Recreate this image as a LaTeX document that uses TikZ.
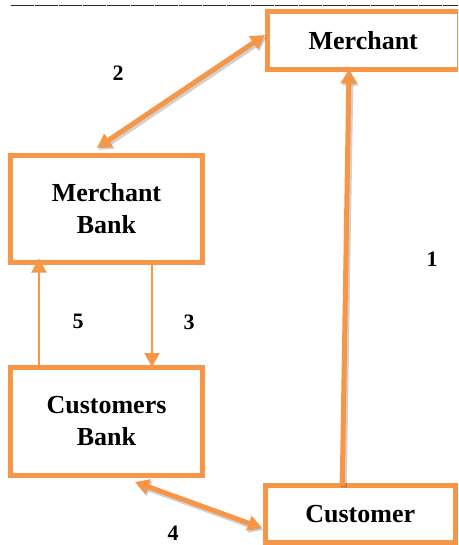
\documentclass[tikz,border=0pt]{standalone}
\usepackage{fontspec}
\setmainfont{Liberation Serif}
\usetikzlibrary{arrows.meta}
\definecolor{flow}{HTML}{F79646}
\tikzset{
  box/.style={draw=flow, line width=5pt, fill=white, inner sep=0pt, outer sep=0pt,
    align=center, font=\fontsize{26}{32}\selectfont\bfseries},
  num/.style={inner sep=0pt, font=\fontsize{22}{26}\selectfont\bfseries},
  bigtip/.style={-{Triangle[length=14pt,width=16pt]}},
  bigtips/.style={{Triangle[length=14pt,width=15pt]}-{Triangle[length=14pt,width=15pt]}},
  smalltip/.style={-{Triangle[length=14pt,width=15pt]}},
  thick link/.style={draw=flow, line width=5pt},
  thin link/.style={draw=flow, line width=2pt},
  shadowed/.style={preaction={draw=black, opacity=0.18, line width=6pt,
    transform canvas={shift={(1.5pt,-2pt)}}}}
}
\begin{document}
\begin{tikzpicture}[x=1pt,y=-1pt]
\useasboundingbox (0,0) rectangle (458,545);
\clip (0,0) rectangle (458,545);

% ruled line across the top
\draw[line width=1.2pt, black!85, dash pattern=on 23pt off 1pt] (10.5,5.7) -- (458,5.7);

% parties
\node[box, minimum width=191.5pt, minimum height=58pt]  (merchant) at (363.25,40.5) {Merchant};
\node[box, minimum width=192pt,   minimum height=107pt] (mbank)    at (106.5,209)   {Merchant\\Bank};
\node[box, minimum width=192pt,   minimum height=108pt] (cbank)    at (106.5,421.5) {Customers\\Bank};
\node[box, minimum width=189.5pt, minimum height=56.5pt] (customer) at (360.25,513.75) {Customer};

% connector end points on the boxes
\coordinate (m2)  at ([xshift=-2.5pt,yshift=5.5pt]merchant.west);
\coordinate (mb2) at ([xshift=-9.5pt,yshift=7.5pt]mbank.north);
\coordinate (c1)  at ([xshift=-18pt]customer.north);
\coordinate (m1)  at ([xshift=-14.25pt]merchant.south);
\coordinate (cb5) at ([xshift=-67.5pt]cbank.north);
\coordinate (mb5) at ([xshift=-67.5pt,yshift=4pt]mbank.south);
\coordinate (mb3) at ([xshift=45.5pt]mbank.south);
\coordinate (cb3) at ([xshift=45.5pt,yshift=0.5pt]cbank.north);
\coordinate (cb4) at ([xshift=28.5pt,yshift=-6.5pt]cbank.south);
\coordinate (c4)  at ([xshift=-3.5pt,yshift=-14.25pt]customer.west);

% flows
\draw[thick link, bigtips, shadowed] (mb2) -- (m2);
\draw[thick link, bigtip, shadowed] (c1) -- (m1);
\draw[thin link, smalltip] (cb5) -- (mb5);
\draw[thin link, smalltip] (mb3) -- (cb3);
\draw[thick link, bigtips, shadowed] (cb4) -- (c4);

% step numbers
\node[num] (n1) at (432,259) {1};
\node[num] (n2) at (118,73)  {2};
\node[num] (n3) at (189,322) {3};
\node[num] (n4) at (173,533) {4};
\node[num] (n5) at (78,321)  {5};
\end{tikzpicture}
\end{document}
